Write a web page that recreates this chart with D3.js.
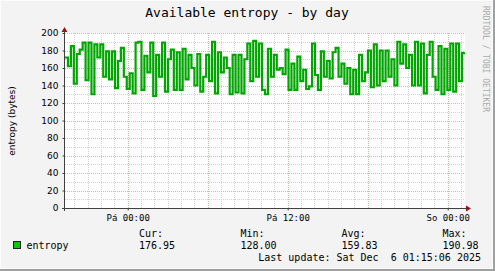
<!DOCTYPE html>
<html>
<head>
<meta charset="utf-8">
<script src="https://cdn.jsdelivr.net/npm/d3@7"></script>
<style>
  html, body { margin: 0; padding: 0; background: #fff; }
  svg { display: block; }
</style>
</head>
<body>
<div id="chart"></div>
<script>
'use strict'

// entropy samples left to right (bytes)
const entropy = [
  172, 162, 185, 142, 176, 181, 189, 146, 189, 130, 187, 172, 187, 150, 179, 147, 179, 137, 168, 183, 150, 136, 154, 131, 189, 190, 135,
  174, 155, 189, 128, 175, 150, 189, 133, 170, 181, 135, 178, 135, 182, 147, 175, 160, 140, 176, 133, 150, 175, 145, 190, 131, 178, 155,
  172, 160, 130, 175, 132, 175, 131, 170, 188, 145, 191, 150, 188, 135, 130, 182, 150, 175, 158, 160, 153, 181, 135, 165, 135, 173, 145,
  158, 136, 139, 188, 152, 135, 179, 150, 168, 148, 178, 183, 150, 165, 142, 160, 130, 158, 130, 175, 145, 155, 180, 138, 187, 140, 180,
  145, 180, 150, 170, 140, 190, 165, 187, 160, 175, 140, 190, 140, 188, 131, 175, 190, 150, 135, 185, 130, 182, 135, 188, 133, 188, 145, 176.95
]
const startTime = Date.UTC(2025, 11, 4, 19, 17, 51)
const endTime = Date.UTC(2025, 11, 6, 1, 17, 51)

const yTicks = [0, 20, 40, 60, 80, 100, 120, 140, 160, 180, 200]
const xTickTimes = [Date.UTC(2025, 11, 5, 0), Date.UTC(2025, 11, 5, 12), Date.UTC(2025, 11, 6, 0)]
const xTickLabels = ['Pá 00:00', 'Pá 12:00', 'So 00:00']

const legendHeads = ['Cur:', 'Min:', 'Avg:', 'Max:']
const legendValues = ['176.95', '128.00', '159.83', '190.98']

const width = 495
const height = 271
const plotLeft = 65
const plotRight = 465
const plotTop = 33
const plotBottom = 208
const mono = "'DejaVu Sans Mono', monospace"
const sans = "'DejaVu Sans', sans-serif"

const svg = d3.select('#chart')
  .append('svg')
  .attr('width', width)
  .attr('height', height)

// frame
svg.append('rect').attr('width', width).attr('height', height).attr('fill', '#a0a0a0')
svg.append('rect').attr('width', width - 2).attr('height', height - 2).attr('fill', '#fcfcfc')
svg.append('rect').attr('x', 1).attr('y', 1).attr('width', width - 4).attr('height', height - 4).attr('fill', '#f3f3f3')

const step = (endTime - startTime) / entropy.length
const data = entropy.map((v, i) => ({ t: new Date(startTime + i * step), v }))
data.push({ t: new Date(endTime), v: entropy[entropy.length - 1] })

const x = d3.scaleUtc().domain([new Date(startTime), new Date(endTime)]).range([plotLeft, plotRight])
const y = d3.scaleLinear().domain([0, 200]).range([plotBottom, plotTop])

svg.append('rect')
  .attr('x', plotLeft).attr('y', plotTop)
  .attr('width', plotRight - plotLeft).attr('height', plotBottom - plotTop)
  .attr('fill', '#fff')

// minor grid
const hours = d3.utcHour.range(new Date(startTime), new Date(endTime))
svg.append('g').selectAll('line')
  .data(hours.filter(h => h.getUTCHours() % 6 !== 0))
  .enter().append('line')
  .attr('x1', d => Math.round(x(d)) + 0.5).attr('x2', d => Math.round(x(d)) + 0.5)
  .attr('y1', plotTop).attr('y2', plotBottom)
  .attr('stroke', '#d2d2d2').attr('stroke-dasharray', '1,1')

svg.append('g').selectAll('line')
  .data(d3.range(10, 200, 20))
  .enter().append('line')
  .attr('x1', plotLeft).attr('x2', plotRight)
  .attr('y1', d => Math.round(y(d)) + 0.5).attr('y2', d => Math.round(y(d)) + 0.5)
  .attr('stroke', '#d2d2d2').attr('stroke-dasharray', '1,1')

// major grid
svg.append('g').selectAll('line')
  .data(hours.filter(h => h.getUTCHours() % 6 === 0))
  .enter().append('line')
  .attr('x1', d => Math.round(x(d)) + 0.5).attr('x2', d => Math.round(x(d)) + 0.5)
  .attr('y1', plotTop).attr('y2', plotBottom)
  .attr('stroke', '#f0a8a8').attr('stroke-dasharray', '1,1')

svg.append('g').selectAll('line')
  .data(yTicks.slice(1))
  .enter().append('line')
  .attr('x1', plotLeft).attr('x2', plotRight)
  .attr('y1', d => Math.round(y(d)) + 0.5).attr('y2', d => Math.round(y(d)) + 0.5)
  .attr('stroke', '#f0a8a8').attr('stroke-dasharray', '1,1')

// data line
const line = d3.line()
  .x(d => x(d.t))
  .y(d => y(d.v))
  .curve(d3.curveStepAfter)

svg.append('path')
  .datum(data)
  .attr('d', line)
  .attr('fill', 'none')
  .attr('stroke', '#00a600')
  .attr('stroke-width', 2.2)

// axes
const yAxis = svg.append('g')
  .attr('transform', `translate(${plotLeft - 0.5},0)`)
  .call(d3.axisLeft(y).tickValues(yTicks).tickSize(2).tickPadding(4))
yAxis.select('.domain').remove()
yAxis.selectAll('line').attr('stroke', '#404040')
yAxis.selectAll('text').attr('font-family', sans).attr('font-size', 9).attr('fill', '#000')

const xAxis = svg.append('g')
  .attr('transform', `translate(0,${plotBottom + 0.5})`)
  .call(d3.axisBottom(x).tickValues(xTickTimes).tickFormat((d, i) => xTickLabels[i]).tickSize(2).tickPadding(4))
xAxis.select('.domain').remove()
xAxis.selectAll('line').attr('stroke', '#404040')
xAxis.selectAll('text').attr('font-family', mono).attr('font-size', 9).attr('fill', '#000')

svg.append('line')
  .attr('x1', plotLeft - 0.5).attr('x2', plotLeft - 0.5)
  .attr('y1', plotTop - 2).attr('y2', plotBottom + 3)
  .attr('stroke', '#404040')
svg.append('line')
  .attr('x1', plotLeft - 3).attr('x2', plotRight + 3)
  .attr('y1', plotBottom + 0.5).attr('y2', plotBottom + 0.5)
  .attr('stroke', '#404040')
svg.append('path')
  .attr('d', `M${plotLeft - 3.5},${plotTop - 1}L${plotLeft - 0.5},${plotTop - 6}L${plotLeft + 2.5},${plotTop - 1}Z`)
  .attr('fill', '#8b1a1a')
svg.append('path')
  .attr('d', `M${plotRight + 1},${plotBottom - 2.5}L${plotRight + 6},${plotBottom + 0.5}L${plotRight + 1},${plotBottom + 3.5}Z`)
  .attr('fill', '#8b1a1a')

// title and labels
svg.append('text')
  .attr('x', 247).attr('y', 17)
  .attr('text-anchor', 'middle')
  .attr('font-family', mono).attr('font-size', 13)
  .text('Available entropy - by day')

svg.append('text')
  .attr('transform', 'translate(14.5,121) rotate(-90)')
  .attr('text-anchor', 'middle')
  .attr('font-family', sans).attr('font-size', 9)
  .text('entropy (bytes)')

svg.append('text')
  .attr('transform', 'translate(483,6) rotate(90)')
  .attr('font-family', mono).attr('font-size', 8)
  .attr('fill', '#aaaaaa')
  .text('RRDTOOL / TOBI OETIKER')

// legend
const legendX = [139, 240.5, 341.5, 442.5]
svg.append('g').selectAll('text')
  .data(legendHeads)
  .enter().append('text')
  .attr('x', (d, i) => legendX[i]).attr('y', 237)
  .attr('font-family', mono).attr('font-size', 10)
  .text(d => d)
svg.append('g').selectAll('text')
  .data(legendValues)
  .enter().append('text')
  .attr('x', (d, i) => legendX[i]).attr('y', 249)
  .attr('font-family', mono).attr('font-size', 10)
  .text(d => d)

svg.append('rect')
  .attr('x', 13.5).attr('y', 241.5).attr('width', 7).attr('height', 7)
  .attr('fill', '#00cc00').attr('stroke', '#222')
svg.append('text')
  .attr('x', 26.5).attr('y', 249)
  .attr('font-family', mono).attr('font-size', 10)
  .text('entropy')

svg.append('text')
  .attr('x', 481).attr('y', 261)
  .attr('text-anchor', 'end')
  .attr('font-family', mono).attr('font-size', 10)
  .style('white-space', 'pre')
  .text('Last update: Sat Dec  6 01:15:06 2025')
</script>
</body>
</html>
